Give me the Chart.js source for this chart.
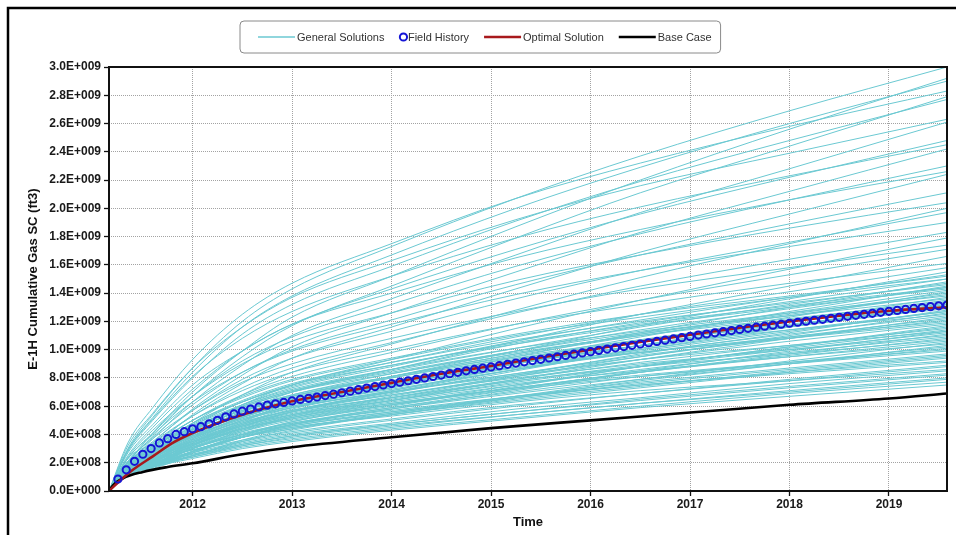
<!DOCTYPE html>
<html>
<head>
<meta charset="utf-8">
<script src="https://cdn.jsdelivr.net/npm/chart.js@4.4.1/dist/chart.umd.min.js"></script>
<style>
  html, body { margin: 0; padding: 0; background: #ffffff; }
  #wrap { width: 956px; height: 535px; }
</style>
</head>
<body>
<div id="wrap"><canvas id="chart" width="956" height="535"></canvas></div>
<script>
// Cumulative gas production of well E-1H, values in units of 1E+009 ft3.

// Time axis range and labelled years
const timeRange = [2011.16, 2019.583];
const yearTicks = [2012, 2013, 2014, 2015, 2016, 2017, 2018, 2019];
const gasTicks = [0.0, 0.2, 0.4, 0.6, 0.8, 1.0, 1.2, 1.4, 1.6, 1.8, 2.0, 2.2, 2.4, 2.6, 2.8, 3.0];

// Sample dates shared by every general solution run
const sampleYears = [2011.16, 2011.35, 2011.6, 2012, 2012.5, 2013, 2014, 2015.25, 2016.5, 2018, 2019.583];

// General solution runs (one row per run, values at sampleYears)
const generalSolutions = [
  [0, 0.30, 0.54, 0.87, 1.20, 1.43, 1.73, 2.07, 2.37, 2.69, 3.00],
  [0, 0.20, 0.41, 0.70, 0.99, 1.23, 1.52, 1.87, 2.20, 2.56, 2.92],
  [0, 0.29, 0.52, 0.84, 1.16, 1.38, 1.67, 2.00, 2.29, 2.60, 2.90],
  [0, 0.34, 0.59, 0.93, 1.25, 1.47, 1.75, 2.07, 2.32, 2.58, 2.83],
  [0, 0.20, 0.39, 0.67, 0.95, 1.17, 1.45, 1.79, 2.11, 2.44, 2.79],
  [0, 0.28, 0.50, 0.80, 1.11, 1.32, 1.59, 1.91, 2.19, 2.48, 2.77],
  [0, 0.32, 0.55, 0.87, 1.16, 1.37, 1.63, 1.92, 2.16, 2.39, 2.63],
  [0, 0.18, 0.37, 0.63, 0.89, 1.10, 1.36, 1.67, 1.97, 2.28, 2.61],
  [0, 0.25, 0.45, 0.72, 0.99, 1.18, 1.43, 1.71, 1.96, 2.22, 2.48],
  [0, 0.29, 0.51, 0.81, 1.08, 1.27, 1.52, 1.79, 2.01, 2.23, 2.45],
  [0, 0.17, 0.34, 0.58, 0.82, 1.02, 1.26, 1.55, 1.83, 2.12, 2.42],
  [0, 0.23, 0.41, 0.67, 0.92, 1.09, 1.32, 1.59, 1.82, 2.06, 2.30],
  [0, 0.27, 0.47, 0.75, 0.99, 1.18, 1.40, 1.65, 1.85, 2.06, 2.26],
  [0, 0.16, 0.31, 0.54, 0.76, 0.94, 1.16, 1.43, 1.69, 1.96, 2.24],
  [0, 0.21, 0.38, 0.61, 0.84, 1.00, 1.21, 1.46, 1.67, 1.89, 2.11],
  [0, 0.24, 0.43, 0.67, 0.90, 1.06, 1.26, 1.49, 1.67, 1.86, 2.04],
  [0, 0.14, 0.28, 0.48, 0.68, 0.84, 1.04, 1.28, 1.51, 1.75, 2.00],
  [0, 0.20, 0.35, 0.57, 0.79, 0.94, 1.13, 1.36, 1.56, 1.76, 1.97],
  [0, 0.23, 0.40, 0.63, 0.84, 0.99, 1.18, 1.39, 1.56, 1.73, 1.90],
  [0, 0.18, 0.33, 0.53, 0.73, 0.87, 1.05, 1.26, 1.45, 1.64, 1.83],
  [0, 0.13, 0.25, 0.43, 0.61, 0.75, 0.93, 1.15, 1.35, 1.57, 1.79],
  [0, 0.21, 0.37, 0.57, 0.77, 0.90, 1.08, 1.27, 1.43, 1.58, 1.74],
  [0, 0.17, 0.31, 0.50, 0.68, 0.81, 0.98, 1.18, 1.35, 1.53, 1.71],
  [0, 0.12, 0.23, 0.40, 0.56, 0.70, 0.86, 1.06, 1.25, 1.45, 1.66],
  [0, 0.19, 0.34, 0.53, 0.71, 0.84, 1.00, 1.18, 1.32, 1.47, 1.61],
  [0, 0.16, 0.28, 0.46, 0.63, 0.75, 0.91, 1.09, 1.25, 1.41, 1.58],
  [0, 0.12, 0.22, 0.37, 0.53, 0.65, 0.81, 0.99, 1.17, 1.36, 1.55],
  [0, 0.15, 0.28, 0.44, 0.61, 0.73, 0.88, 1.06, 1.21, 1.37, 1.53],
  [0, 0.18, 0.32, 0.50, 0.67, 0.79, 0.94, 1.11, 1.25, 1.38, 1.52],
  [0, 0.18, 0.32, 0.50, 0.66, 0.78, 0.93, 1.10, 1.23, 1.37, 1.50],
  [0, 0.15, 0.27, 0.44, 0.60, 0.71, 0.86, 1.04, 1.19, 1.34, 1.50],
  [0, 0.12, 0.21, 0.36, 0.50, 0.62, 0.77, 0.95, 1.12, 1.30, 1.48],
  [0, 0.15, 0.26, 0.43, 0.59, 0.70, 0.85, 1.01, 1.16, 1.32, 1.47],
  [0, 0.18, 0.31, 0.48, 0.64, 0.76, 0.91, 1.07, 1.20, 1.33, 1.46],
  [0, 0.12, 0.20, 0.35, 0.49, 0.61, 0.75, 0.93, 1.09, 1.27, 1.45],
  [0, 0.14, 0.26, 0.42, 0.58, 0.68, 0.83, 0.99, 1.14, 1.29, 1.44],
  [0, 0.17, 0.30, 0.48, 0.63, 0.75, 0.89, 1.05, 1.18, 1.31, 1.44],
  [0, 0.17, 0.30, 0.47, 0.63, 0.74, 0.89, 1.04, 1.17, 1.30, 1.43],
  [0, 0.23, 0.33, 0.44, 0.57, 0.67, 0.81, 0.97, 1.11, 1.26, 1.42],
  [0, 0.12, 0.20, 0.34, 0.48, 0.59, 0.73, 0.90, 1.06, 1.23, 1.41],
  [0, 0.14, 0.25, 0.41, 0.56, 0.67, 0.81, 0.97, 1.11, 1.25, 1.40],
  [0, 0.14, 0.25, 0.40, 0.56, 0.66, 0.80, 0.96, 1.10, 1.24, 1.39],
  [0, 0.17, 0.29, 0.46, 0.61, 0.72, 0.86, 1.01, 1.13, 1.26, 1.38],
  [0, 0.12, 0.19, 0.33, 0.47, 0.58, 0.71, 0.88, 1.03, 1.20, 1.37],
  [0, 0.16, 0.29, 0.45, 0.60, 0.71, 0.84, 0.99, 1.12, 1.24, 1.36],
  [0, 0.14, 0.24, 0.39, 0.54, 0.64, 0.78, 0.93, 1.07, 1.21, 1.35],
  [0, 0.16, 0.28, 0.44, 0.59, 0.70, 0.83, 0.98, 1.10, 1.22, 1.34],
  [0, 0.12, 0.19, 0.32, 0.46, 0.56, 0.70, 0.86, 1.01, 1.17, 1.34],
  [0, 0.12, 0.19, 0.32, 0.45, 0.56, 0.69, 0.85, 1.00, 1.16, 1.33],
  [0, 0.21, 0.30, 0.41, 0.53, 0.62, 0.75, 0.90, 1.03, 1.17, 1.32],
  [0, 0.13, 0.24, 0.38, 0.52, 0.62, 0.75, 0.90, 1.03, 1.17, 1.31],
  [0, 0.16, 0.27, 0.43, 0.57, 0.68, 0.81, 0.95, 1.07, 1.18, 1.30],
  [0, 0.13, 0.23, 0.38, 0.52, 0.62, 0.75, 0.90, 1.03, 1.16, 1.30],
  [0, 0.15, 0.27, 0.43, 0.57, 0.67, 0.80, 0.94, 1.06, 1.17, 1.29],
  [0, 0.12, 0.18, 0.31, 0.44, 0.54, 0.67, 0.82, 0.97, 1.12, 1.28],
  [0, 0.20, 0.29, 0.39, 0.51, 0.60, 0.72, 0.86, 0.99, 1.13, 1.27],
  [0, 0.13, 0.23, 0.37, 0.51, 0.60, 0.73, 0.88, 1.00, 1.14, 1.27],
  [0, 0.12, 0.18, 0.30, 0.43, 0.53, 0.66, 0.81, 0.95, 1.10, 1.26],
  [0, 0.15, 0.26, 0.41, 0.55, 0.65, 0.78, 0.91, 1.03, 1.14, 1.25],
  [0, 0.12, 0.22, 0.36, 0.50, 0.59, 0.71, 0.86, 0.98, 1.11, 1.24],
  [0, 0.12, 0.18, 0.30, 0.42, 0.52, 0.64, 0.79, 0.93, 1.08, 1.23],
  [0, 0.20, 0.28, 0.38, 0.49, 0.57, 0.70, 0.83, 0.95, 1.09, 1.22],
  [0, 0.12, 0.22, 0.35, 0.48, 0.57, 0.70, 0.83, 0.96, 1.08, 1.21],
  [0, 0.14, 0.25, 0.40, 0.53, 0.62, 0.74, 0.88, 0.98, 1.09, 1.20],
  [0, 0.14, 0.25, 0.39, 0.52, 0.62, 0.74, 0.87, 0.98, 1.08, 1.19],
  [0, 0.12, 0.21, 0.34, 0.47, 0.56, 0.68, 0.81, 0.93, 1.06, 1.18],
  [0, 0.12, 0.17, 0.28, 0.40, 0.49, 0.61, 0.75, 0.88, 1.02, 1.17],
  [0, 0.12, 0.17, 0.28, 0.39, 0.49, 0.60, 0.74, 0.88, 1.02, 1.16],
  [0, 0.12, 0.21, 0.33, 0.46, 0.55, 0.66, 0.79, 0.91, 1.03, 1.15],
  [0, 0.18, 0.26, 0.35, 0.46, 0.54, 0.65, 0.78, 0.89, 1.01, 1.14],
  [0, 0.14, 0.24, 0.37, 0.50, 0.59, 0.70, 0.82, 0.93, 1.03, 1.13],
  [0, 0.12, 0.17, 0.27, 0.38, 0.47, 0.59, 0.72, 0.85, 0.99, 1.13],
  [0, 0.11, 0.20, 0.32, 0.45, 0.53, 0.64, 0.77, 0.88, 1.00, 1.12],
  [0, 0.12, 0.17, 0.27, 0.38, 0.47, 0.58, 0.71, 0.84, 0.97, 1.11],
  [0, 0.13, 0.23, 0.36, 0.48, 0.57, 0.68, 0.80, 0.90, 1.00, 1.10],
  [0, 0.11, 0.20, 0.32, 0.44, 0.52, 0.63, 0.75, 0.86, 0.98, 1.09],
  [0, 0.17, 0.25, 0.33, 0.43, 0.51, 0.62, 0.73, 0.84, 0.96, 1.08],
  [0, 0.13, 0.22, 0.35, 0.47, 0.56, 0.66, 0.78, 0.88, 0.97, 1.07],
  [0, 0.11, 0.19, 0.31, 0.42, 0.50, 0.61, 0.73, 0.84, 0.95, 1.06],
  [0, 0.12, 0.17, 0.25, 0.36, 0.44, 0.55, 0.67, 0.79, 0.92, 1.05],
  [0, 0.12, 0.22, 0.34, 0.46, 0.54, 0.64, 0.76, 0.85, 0.95, 1.04],
  [0, 0.12, 0.16, 0.25, 0.35, 0.43, 0.54, 0.66, 0.78, 0.90, 1.03],
  [0, 0.11, 0.18, 0.30, 0.41, 0.48, 0.59, 0.70, 0.81, 0.91, 1.02],
  [0, 0.16, 0.23, 0.31, 0.40, 0.47, 0.58, 0.69, 0.79, 0.90, 1.01],
  [0, 0.12, 0.21, 0.33, 0.44, 0.52, 0.62, 0.73, 0.82, 0.91, 1.00],
  [0, 0.12, 0.21, 0.33, 0.44, 0.51, 0.61, 0.72, 0.81, 0.90, 0.99],
  [0, 0.11, 0.17, 0.28, 0.39, 0.46, 0.56, 0.67, 0.77, 0.87, 0.97],
  [0, 0.11, 0.17, 0.28, 0.38, 0.46, 0.55, 0.66, 0.76, 0.86, 0.96],
  [0, 0.15, 0.22, 0.29, 0.38, 0.45, 0.54, 0.65, 0.74, 0.85, 0.95],
  [0, 0.15, 0.22, 0.29, 0.38, 0.44, 0.54, 0.64, 0.73, 0.84, 0.94],
  [0, 0.11, 0.19, 0.30, 0.40, 0.48, 0.57, 0.67, 0.75, 0.84, 0.92],
  [0, 0.11, 0.19, 0.30, 0.40, 0.47, 0.56, 0.66, 0.75, 0.83, 0.91],
  [0, 0.14, 0.20, 0.28, 0.36, 0.42, 0.51, 0.61, 0.69, 0.79, 0.89],
  [0, 0.14, 0.20, 0.27, 0.35, 0.41, 0.50, 0.60, 0.69, 0.78, 0.88],
  [0, 0.11, 0.18, 0.28, 0.38, 0.45, 0.53, 0.63, 0.71, 0.78, 0.86],
  [0, 0.14, 0.20, 0.26, 0.34, 0.40, 0.48, 0.58, 0.66, 0.76, 0.85],
  [0, 0.13, 0.19, 0.26, 0.33, 0.39, 0.47, 0.56, 0.65, 0.74, 0.83],
  [0, 0.13, 0.19, 0.25, 0.33, 0.39, 0.47, 0.56, 0.64, 0.73, 0.82],
  [0, 0.13, 0.18, 0.25, 0.32, 0.38, 0.46, 0.54, 0.62, 0.71, 0.80],
  [0, 0.13, 0.18, 0.24, 0.32, 0.37, 0.45, 0.54, 0.62, 0.70, 0.79],
  [0, 0.12, 0.18, 0.24, 0.31, 0.36, 0.44, 0.52, 0.60, 0.69, 0.77],
  [0, 0.12, 0.17, 0.23, 0.30, 0.35, 0.43, 0.51, 0.59, 0.67, 0.75]
];

// Monthly field history (month-end readings from March 2011)
const fieldHistoryStart = { year: 2011, month: 3 };
const fieldHistory = [
  0.085, 0.15, 0.21, 0.26, 0.30, 0.34, 0.37, 0.40, 0.42, 0.44,
  0.455, 0.475, 0.50, 0.525, 0.545, 0.565, 0.58, 0.595, 0.607, 0.617,
  0.627, 0.637, 0.648, 0.656, 0.665, 0.675, 0.685, 0.695, 0.706, 0.717,
  0.728, 0.739, 0.750, 0.760, 0.770, 0.780, 0.790, 0.800, 0.810, 0.820,
  0.830, 0.840, 0.850, 0.860, 0.869, 0.878, 0.887, 0.896, 0.905, 0.914,
  0.923, 0.932, 0.941, 0.950, 0.959, 0.968, 0.977, 0.986, 0.995, 1.004,
  1.013, 1.022, 1.031, 1.040, 1.049, 1.058, 1.067, 1.076, 1.085, 1.094,
  1.103, 1.111, 1.119, 1.127, 1.135, 1.143, 1.151, 1.159, 1.166, 1.173,
  1.180, 1.187, 1.194, 1.201, 1.208, 1.215, 1.222, 1.229, 1.236, 1.243,
  1.250, 1.257, 1.264, 1.271, 1.278, 1.285, 1.292, 1.298, 1.304, 1.310,
  1.316
];

// Optimal (history-matched) solution
const optimalYears = [2011.16, 2011.25, 2011.4, 2011.6, 2011.8, 2012, 2012.25, 2012.5, 2012.75, 2013,
  2013.5, 2014, 2014.5, 2015, 2015.5, 2016, 2016.5, 2017, 2017.5, 2018, 2018.5, 2019, 2019.583];
const optimalSolution = [0, 0.06, 0.15, 0.245, 0.34, 0.41, 0.48, 0.54, 0.59, 0.635,
  0.70, 0.765, 0.83, 0.885, 0.945, 1.0, 1.055, 1.105, 1.155, 1.2, 1.24, 1.275, 1.30];

// Base case run
const baseYears = [2011.16, 2011.2, 2011.3, 2011.5, 2011.75, 2012, 2012.5, 2013, 2014, 2015, 2016, 2017, 2018, 2019, 2019.583];
const baseCase = [0, 0.04, 0.09, 0.135, 0.17, 0.196, 0.26, 0.31, 0.38, 0.445, 0.50, 0.555, 0.61, 0.655, 0.69];

const legendOrder = ['General Solutions', 'Field History', 'Optimal Solution', 'Base Case'];

const FONT = '"Liberation Sans", Arial, Helvetica, sans-serif';

function toPoints(xs, ys) {
  return ys.map((y, i) => ({ x: xs[i], y: y }));
}

function monthEndYear(k) {
  return fieldHistoryStart.year + (fieldHistoryStart.month + k) / 12;
}

// 0.2 -> "2.0E+008", 1.4 -> "1.4E+009"
function sciLabel(v) {
  const bcf = Math.round(v * 10) / 10;
  if (bcf === 0) return '0.0E+000';
  const ft3 = bcf * 1e9;
  const e = Math.floor(Math.log10(ft3) + 1e-9);
  const m = ft3 / Math.pow(10, e);
  return m.toFixed(1) + 'E+' + String(e).padStart(3, '0');
}

const datasets = [
  {
    label: 'Field History',
    data: fieldHistory.map((v, k) => ({ x: monthEndYear(k), y: v })),
    showLine: false,
    pointRadius: 3.6,
    pointBorderWidth: 2,
    pointBorderColor: '#1515d6',
    pointBackgroundColor: 'rgba(0,0,0,0)',
    borderColor: '#1515d6',
    order: 0
  },
  {
    label: 'Optimal Solution',
    data: toPoints(optimalYears, optimalSolution),
    borderColor: '#a8191c',
    borderWidth: 2.6,
    pointRadius: 0,
    cubicInterpolationMode: 'monotone',
    order: 1
  },
  {
    label: 'Base Case',
    data: toPoints(baseYears, baseCase),
    borderColor: '#000000',
    borderWidth: 2.6,
    pointRadius: 0,
    cubicInterpolationMode: 'monotone',
    order: 2
  }
].concat(generalSolutions.map(row => ({
  label: 'General Solutions',
  data: toPoints(sampleYears, row),
  borderColor: '#6bc9d2',
  borderWidth: 1,
  pointRadius: 0,
  cubicInterpolationMode: 'monotone',
  order: 3
})));

// White page, outer frame, plot border and the boxed legend
const decorations = {
  id: 'decorations',
  beforeDraw(chart) {
    const ctx = chart.ctx;
    ctx.save();
    ctx.fillStyle = '#ffffff';
    ctx.fillRect(0, 0, chart.width, chart.height);
    ctx.restore();
  },
  afterDraw(chart) {
    const ctx = chart.ctx;
    const a = chart.chartArea;
    ctx.save();

    // plot border
    ctx.strokeStyle = '#111111';
    ctx.lineWidth = 2;
    ctx.strokeRect(a.left, a.top, a.right - a.left, a.bottom - a.top);

    // outer frame (top and left edges)
    ctx.strokeStyle = '#000000';
    ctx.lineWidth = 2.5;
    ctx.beginPath();
    ctx.moveTo(8, chart.height);
    ctx.lineTo(8, 8);
    ctx.lineTo(chart.width, 8);
    ctx.stroke();

    // legend
    ctx.font = '11px ' + FONT;
    ctx.textBaseline = 'middle';
    const boxLeft = 240, boxTop = 21, boxH = 32;
    const cy = boxTop + boxH / 2;
    const items = [];
    let x = boxLeft + 18;
    legendOrder.forEach(name => {
      const ds = chart.data.datasets.find(d => d.label === name);
      const item = { ds: ds, name: name, x0: x };
      if (ds.showLine === false) {
        item.cx = x + 4;
        x += 8.5;
      } else {
        item.x1 = x + 37;
        x += 39;
      }
      item.tx = x;
      x += ctx.measureText(name).width + 15;
      items.push(item);
    });
    const boxRight = x - 15 + 9;

    // rounded frame
    const r = 4, w = boxRight - boxLeft;
    ctx.beginPath();
    ctx.moveTo(boxLeft + r, boxTop);
    ctx.lineTo(boxLeft + w - r, boxTop);
    ctx.arcTo(boxLeft + w, boxTop, boxLeft + w, boxTop + r, r);
    ctx.lineTo(boxLeft + w, boxTop + boxH - r);
    ctx.arcTo(boxLeft + w, boxTop + boxH, boxLeft + w - r, boxTop + boxH, r);
    ctx.lineTo(boxLeft + r, boxTop + boxH);
    ctx.arcTo(boxLeft, boxTop + boxH, boxLeft, boxTop + boxH - r, r);
    ctx.lineTo(boxLeft, boxTop + r);
    ctx.arcTo(boxLeft, boxTop, boxLeft + r, boxTop, r);
    ctx.closePath();
    ctx.fillStyle = '#ffffff';
    ctx.fill();
    ctx.strokeStyle = '#8a8a8a';
    ctx.lineWidth = 1;
    ctx.stroke();

    items.forEach(it => {
      if (it.cx !== undefined) {
        ctx.beginPath();
        ctx.arc(it.cx, cy, 3.6, 0, Math.PI * 2);
        ctx.strokeStyle = it.ds.pointBorderColor;
        ctx.lineWidth = 2;
        ctx.stroke();
      } else {
        ctx.beginPath();
        ctx.moveTo(it.x0, cy);
        ctx.lineTo(it.x1, cy);
        ctx.strokeStyle = it.ds.borderColor;
        ctx.lineWidth = it.ds.borderWidth < 2 ? 1.5 : 2.6;
        ctx.stroke();
      }
      ctx.fillStyle = '#333333';
      ctx.textAlign = 'left';
      ctx.fillText(it.name, it.tx, cy + 0.5);
    });

    ctx.restore();
  }
};

const gridStyle = {
  color: '#a3a3a3',
  lineWidth: 1,
  drawTicks: true,
  tickLength: 5,
  tickColor: '#111111',
  tickWidth: 1.3,
  tickBorderDash: []
};

new Chart(document.getElementById('chart'), {
  type: 'line',
  data: { datasets: datasets },
  plugins: [decorations],
  options: {
    responsive: false,
    animation: false,
    events: [],
    layout: { padding: { left: 0, right: 9, top: 67, bottom: 0 } },
    plugins: {
      legend: { display: false },
      tooltip: { enabled: false },
      title: { display: false }
    },
    scales: {
      x: {
        type: 'linear',
        min: timeRange[0],
        max: timeRange[1],
        afterBuildTicks: s => { s.ticks = yearTicks.map(v => ({ value: v })); },
        afterFit: s => { s.height = 44; },
        ticks: {
          autoSkip: false,
          maxRotation: 0,
          padding: 1,
          color: '#1a1a1a',
          font: { family: FONT, size: 12, weight: 'bold' },
          callback: v => String(v)
        },
        grid: gridStyle,
        border: { display: false, dash: [1, 1] },
        title: {
          display: true,
          text: 'Time',
          color: '#111111',
          font: { family: FONT, size: 13, weight: 'bold' },
          padding: { top: 0, bottom: 5 }
        }
      },
      y: {
        type: 'linear',
        min: 0,
        max: 3.0,
        afterBuildTicks: s => { s.ticks = gasTicks.map(v => ({ value: v })); },
        afterFit: s => { s.width = 109; },
        ticks: {
          autoSkip: false,
          padding: 3,
          color: '#1a1a1a',
          font: { family: FONT, size: 12, weight: 'bold' },
          callback: v => sciLabel(v)
        },
        grid: gridStyle,
        border: { display: false, dash: [1, 1] },
        title: {
          display: true,
          text: 'E-1H Cumulative Gas SC (ft3)',
          color: '#111111',
          font: { family: FONT, size: 13, weight: 'bold' },
          padding: { top: 26, bottom: 0 }
        }
      }
    }
  }
});
</script>
</body>
</html>
